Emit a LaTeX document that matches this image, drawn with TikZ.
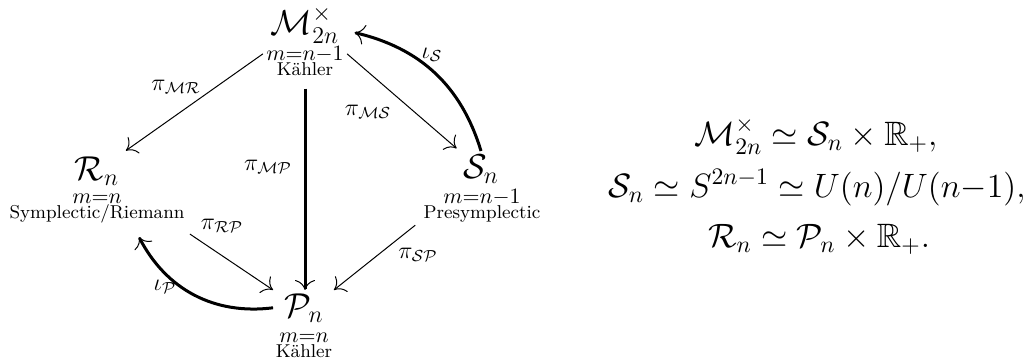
\RequirePackage{fix-cm}
\documentclass[tikz,border=0pt]{standalone}
\usepackage{amssymb}
\usetikzlibrary{arrows.meta}
\begin{document}
\begin{tikzpicture}[x=0.5pt,y=-0.5pt,
  sym/.style={anchor=base,inner sep=1.5pt,font=\fontsize{17.28}{20}\selectfont},
  mlab/.style={anchor=base,inner sep=1.5pt,font=\fontsize{10.95}{13}\selectfont},
  klab/.style={anchor=base,inner sep=1.5pt,font=\fontsize{9.3}{11}\selectfont},
  elab/.style={inner sep=0pt,font=\fontsize{12}{14}\selectfont},
  eqn/.style={anchor=base,inner sep=0pt,font=\fontsize{16.9}{20}\selectfont},
  tip/.style={-{Computer Modern Rightarrow[length=5pt,width=10pt,line width=0.5pt]}},
  thinarr/.style={tip,line width=0.5pt},
  thickarr/.style={tip,line width=1.5pt}]
\useasboundingbox (0,0) rectangle (1023,360);
% vertices
\node[sym] (M) at (305,34) {$\mathcal{M}^{\times}_{2n}$};
\node[mlab] (Mm) at (305,60) {$m{=}n{-}1$};
\node[klab] (Mk) at (305,75) {Kähler};
\node[sym] (R) at (97,180) {$\mathcal{R}_n$};
\node[mlab] (Rm) at (97,203) {$m{=}n$};
\node[klab] (Rk) at (97,218) {Symplectic/Riemann};
\node[sym] (S) at (481,178) {$\mathcal{S}_n$};
\node[mlab] (Sm) at (482,203) {$m{=}n{-}1$};
\node[klab] (Sk) at (482,218) {Presymplectic};
\node[sym] (P) at (304,317) {$\mathcal{P}_n$};
\node[mlab] (Pm) at (304,342) {$m{=}n$};
\node[klab] (Pk) at (304,357) {Kähler};
% connectors
\draw[thinarr, shorten >=2pt] (Mm.west) -- (R.north east);
\draw[thinarr, shorten >=2pt] (Mm.east) -- (S.north west);
\draw[thickarr, shorten <=5pt] (Mk.south) -- (Mk.south |- P.north);
\draw[thickarr] (S.north) to[bend right=30] ([xshift=6pt,yshift=-4pt]M.east);
\draw[thickarr] ([xshift=-4pt]P.west) to[bend left=35] ([xshift=21pt,yshift=-5.5pt]Rk.south);
\draw[thinarr] ([shift={(2,8)}]Rk.south east) -- ([xshift=-4pt]P.north west);
\draw[thinarr] ([shift={(-5,0)}]Sk.south west) -- ([xshift=3.5pt]P.north east);
% connector labels
\node[elab] (lMR) at (176,87) {$\pi_{\mathcal{MR}}$};
\node[elab] (lMS) at (368,112) {$\pi_{\mathcal{MS}}$};
\node[elab] (lMP) at (268,167) {$\pi_{\mathcal{MP}}$};
\node[elab] (lS) at (432,55) {$\iota_{\mathcal{S}}$};
\node[elab] (lRP) at (222,226) {$\pi_{\mathcal{RP}}$};
\node[elab] (lSP) at (418,255) {$\pi_{\mathcal{SP}}$};
\node[elab] (lP) at (165,287) {$\iota_{\mathcal{P}}$};
% relations
\node[eqn] (e1) at (816,145) {$\mathcal{M}^{\times}_{2n}\simeq\mathcal{S}_n\times\mathbb{R}_+,$};
\node[eqn] (e2) at (817,197) {$\mathcal{S}_n\simeq S^{2n-1}\simeq U(n)/U(n{-}1),$};
\node[eqn] (e3) at (819,247) {$\mathcal{R}_n\simeq\mathcal{P}_n\times\mathbb{R}_+.$};
\end{tikzpicture}
\end{document}
